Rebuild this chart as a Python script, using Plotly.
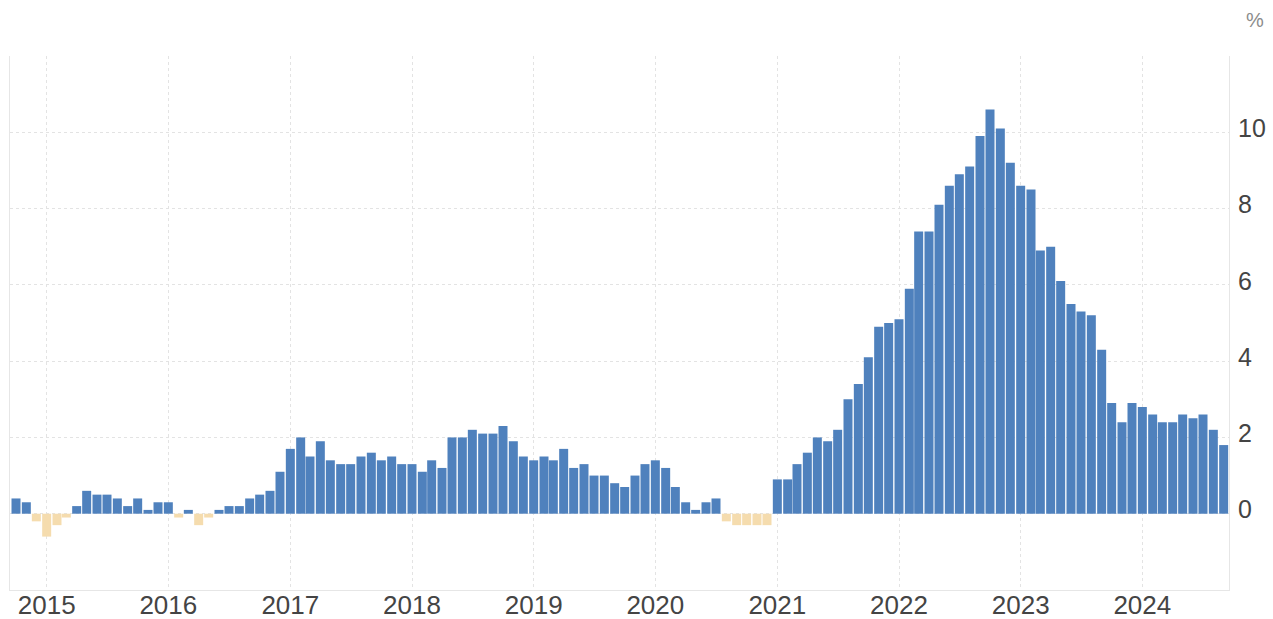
import pandas as pd
import plotly.graph_objects as go

# Monthly inflation rate (%), Oct 2014 .. Sep 2024
start_month = "2014-10-01"
values = [
    # 2014 Oct-Dec
    0.4, 0.3, -0.2,
    # 2015
    -0.6, -0.3, -0.1, 0.2, 0.6, 0.5, 0.5, 0.4, 0.2, 0.4, 0.1, 0.3,
    # 2016
    0.3, -0.1, 0.1, -0.3, -0.1, 0.1, 0.2, 0.2, 0.4, 0.5, 0.6, 1.1,
    # 2017
    1.7, 2.0, 1.5, 1.9, 1.4, 1.3, 1.3, 1.5, 1.6, 1.4, 1.5, 1.3,
    # 2018
    1.3, 1.1, 1.4, 1.2, 2.0, 2.0, 2.2, 2.1, 2.1, 2.3, 1.9, 1.5,
    # 2019
    1.4, 1.5, 1.4, 1.7, 1.2, 1.3, 1.0, 1.0, 0.8, 0.7, 1.0, 1.3,
    # 2020
    1.4, 1.2, 0.7, 0.3, 0.1, 0.3, 0.4, -0.2, -0.3, -0.3, -0.3, -0.3,
    # 2021
    0.9, 0.9, 1.3, 1.6, 2.0, 1.9, 2.2, 3.0, 3.4, 4.1, 4.9, 5.0,
    # 2022
    5.1, 5.9, 7.4, 7.4, 8.1, 8.6, 8.9, 9.1, 9.9, 10.6, 10.1, 9.2,
    # 2023
    8.6, 8.5, 6.9, 7.0, 6.1, 5.5, 5.3, 5.2, 4.3, 2.9, 2.4, 2.9,
    # 2024 Jan-Sep
    2.8, 2.6, 2.4, 2.4, 2.6, 2.5, 2.6, 2.2, 1.8,
]
year_labels = ["2015", "2016", "2017", "2018", "2019", "2020", "2021", "2022", "2023", "2024"]
y_ticks = [0, 2, 4, 6, 8, 10, 12]
y_ticktext = ["0", "2", "4", "6", "8", "10", ""]

months = pd.date_range(start_month, periods=len(values), freq="MS")
POS = "#4F81BD"
NEG = "#F5DCAE"
colors = [POS if v >= 0 else NEG for v in values]

fig = go.Figure(
    go.Bar(
        x=months,
        y=values,
        marker=dict(color=colors, line=dict(width=0)),
        width=27 * 86400000,
        hovertemplate="%{x|%b %Y}: %{y}%<extra></extra>",
    )
)

grid = "#E3E3E3"
fig.update_layout(
    width=1273,
    height=619,
    margin=dict(l=10, r=44, t=56, b=29),
    paper_bgcolor="white",
    plot_bgcolor="white",
    showlegend=False,
    font=dict(family="Liberation Sans, Arial, sans-serif", size=25, color="#444444"),
    xaxis=dict(
        type="date",
        range=["2014-09-13", "2024-09-17"],
        tickvals=[f"{y}-01-01" for y in year_labels],
        ticktext=year_labels,
        showgrid=True,
        gridcolor=grid,
        griddash="dot",
        gridwidth=1,
        showline=True,
        linecolor="#E6E6E6",
        linewidth=1,
        ticks="",
        ticklen=0,
        zeroline=False,
        automargin=False,
        ticklabelstandoff=-8,
        tickfont=dict(size=26, color="#444444"),
    ),
    yaxis=dict(
        side="right",
        range=[-2, 12],
        tickvals=y_ticks,
        ticktext=y_ticktext,
        showgrid=True,
        gridcolor=grid,
        griddash="dot",
        gridwidth=1,
        showline=True,
        mirror=True,
        linecolor="#E6E6E6",
        linewidth=1,
        zeroline=False,
        ticks="",
        ticklen=0,
        automargin=False,
        ticklabelstandoff=3,
        ticklabelshift=-4,
        tickfont=dict(size=25, color="#444444"),
    ),
    annotations=[
        dict(
            text="%",
            xref="paper",
            yref="paper",
            x=1.021,
            y=1.067,
            xanchor="center",
            yanchor="middle",
            showarrow=False,
            font=dict(size=20, color="#8C8C8C"),
        )
    ],
)

fig.write_html(
    "out.html",
    config={"displayModeBar": False},
    post_script="document.body.style.margin='0';document.body.style.overflow='hidden';",
)
